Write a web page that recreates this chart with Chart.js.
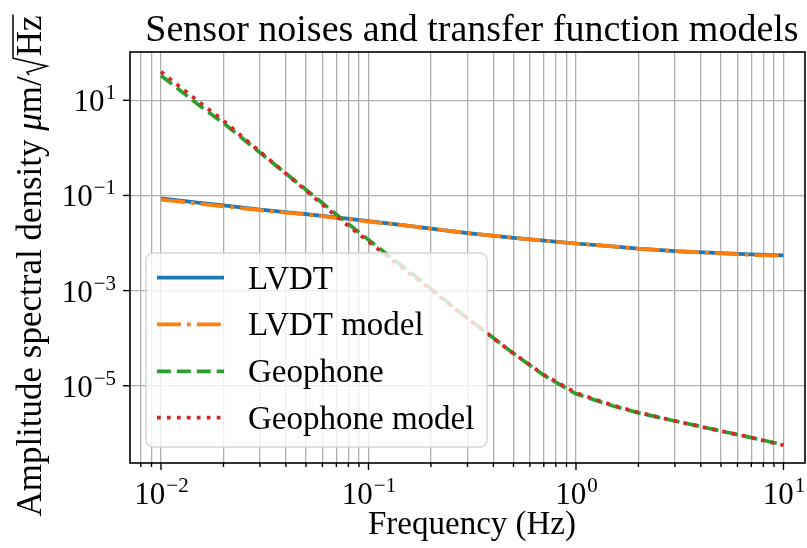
<!DOCTYPE html>
<html>
<head>
<meta charset="utf-8">
<script src="https://cdn.jsdelivr.net/npm/chart.js@4.4.1/dist/chart.umd.min.js"></script>
<style>
  html, body { margin: 0; padding: 0; background: #fff; }
</style>
</head>
<body>
<canvas id="psd" width="807" height="548"></canvas>
<script>
// frequency grid (Hz) and amplitude spectral densities (um/sqrt(Hz))
const freq = [0.01, 0.015, 0.02, 0.03, 0.05, 0.07, 0.1, 0.15, 0.2, 0.3, 0.5, 0.7, 1, 1.5, 2, 3, 5, 7, 10];
const lvdt = [0.0871, 0.0708, 0.0617, 0.0501, 0.0407, 0.0347, 0.0288, 0.0234, 0.0200, 0.0162, 0.0129, 0.0112,
  0.00977, 0.00851, 0.00759, 0.00676, 0.00617, 0.00575, 0.00550];
const lvdtModel = [0.0813, 0.0676, 0.0589, 0.0490, 0.0398, 0.0339, 0.0282, 0.0234, 0.0200, 0.0162, 0.0129, 0.0112,
  0.00977, 0.00851, 0.00759, 0.00676, 0.00603, 0.00562, 0.00537];
const geophone = [33.1, 8.32, 3.31, 0.794, 0.132, 0.0398, 0.0117, 0.00295, 0.00110, 2.63e-4, 4.79e-5, 1.66e-5,
  6.76e-6, 3.80e-6, 2.69e-6, 1.82e-6, 1.12e-6, 8.13e-7, 5.75e-7];
const geophoneModel = [39.8, 9.77, 3.72, 0.832, 0.126, 0.0363, 0.0107, 0.00269, 0.00105, 2.57e-4, 4.79e-5, 1.70e-5,
  7.08e-6, 3.89e-6, 2.75e-6, 1.82e-6, 1.12e-6, 8.13e-7, 5.62e-7];

const seriesNames = ['LVDT', 'LVDT model', 'Geophone', 'Geophone model'];
const xMajorTicks = [0.01, 0.1, 1, 10];
const yMajorTicks = [1e1, 1e-1, 1e-3, 1e-5];

const SERIF = '"Liberation Serif", "DejaVu Serif", serif';
const LW = 3.75;

function pairs(ys) {
  return freq.map((f, i) => ({ x: f, y: ys[i] }));
}

// every 1..9 x 10^n inside the axis range, for the minor grid on x
function logTicks(min, max) {
  const out = [];
  for (let e = Math.floor(Math.log10(min)); e <= Math.ceil(Math.log10(max)); e++) {
    for (let m = 1; m <= 9; m++) {
      const v = m * Math.pow(10, e);
      if (v >= min && v <= max) out.push({ value: v });
    }
  }
  return out;
}

const styles = [
  { color: '#1f77b4', dash: [] },
  { color: '#ff7f0e', dash: [24, 6, 3.75, 6] },
  { color: '#2ca02c', dash: [13.9, 6] },
  { color: '#d62728', dash: [3.75, 6.2] }
];
const seriesData = [lvdt, lvdtModel, geophone, geophoneModel];

// "10" with a raised exponent, as the axis tick labels read
function drawPower(ctx, exp, x, y, align) {
  const base = '10';
  const sup = exp < 0 ? '\u2212' + Math.abs(exp) : String(exp);
  ctx.font = '31px ' + SERIF;
  const wb = ctx.measureText(base).width;
  ctx.font = '21px ' + SERIF;
  const ws = ctx.measureText(sup).width;
  let left = x;
  if (align === 'center') left = x - (wb + ws) / 2;
  if (align === 'right') left = x - (wb + ws);
  ctx.textAlign = 'left';
  ctx.textBaseline = 'alphabetic';
  ctx.font = '31px ' + SERIF;
  ctx.fillText(base, left, y);
  ctx.font = '21px ' + SERIF;
  ctx.fillText(sup, left + wb + 1, y - 12);
}

const decorations = {
  id: 'decorations',
  afterDraw(chart) {
    const ctx = chart.ctx;
    const a = chart.chartArea;
    const xs = chart.scales.x, ys = chart.scales.y;
    ctx.save();
    ctx.fillStyle = '#000';
    ctx.strokeStyle = '#000';

    // frame
    ctx.lineWidth = 1.6;
    ctx.strokeRect(a.left, a.top, a.right - a.left, a.bottom - a.top);

    // x tick marks and labels
    ctx.lineWidth = 1.4;
    xs.ticks.forEach(t => {
      const px = xs.getPixelForValue(t.value);
      const major = xMajorTicks.some(v => Math.abs(v - t.value) < v * 1e-6);
      ctx.beginPath();
      ctx.moveTo(px, a.bottom);
      ctx.lineTo(px, a.bottom + (major ? 7 : 4));
      ctx.stroke();
    });
    xMajorTicks.forEach(v => {
      drawPower(ctx, Math.round(Math.log10(v)), xs.getPixelForValue(v), a.bottom + 41, 'center');
    });

    // y tick marks and labels
    yMajorTicks.forEach(v => {
      const py = ys.getPixelForValue(v);
      ctx.beginPath();
      ctx.moveTo(a.left, py);
      ctx.lineTo(a.left - 7, py);
      ctx.stroke();
      drawPower(ctx, Math.round(Math.log10(v)), a.left - 15, py + 11, 'right');
    });

    // title and x label
    ctx.textAlign = 'center';
    ctx.textBaseline = 'alphabetic';
    ctx.font = '38px ' + SERIF;
    ctx.fillText('Sensor noises and transfer function models', 472, 41);
    ctx.font = '33px ' + SERIF;
    ctx.fillText('Frequency (Hz)', 472, 534);

    // y label, rotated, with a drawn radical over Hz
    ctx.translate(41, 266);
    ctx.rotate(-Math.PI / 2);
    const F = '35px ' + SERIF;
    const parts = [
      { t: 'Amplitude spectral density ', f: F },
      { t: '\u03bc', f: 'italic ' + F },
      { t: 'm/', f: F }
    ];
    ctx.font = F;
    const hzW = ctx.measureText('Hz').width;
    const radW = 20;
    let total = radW + hzW;
    parts.forEach(p => { ctx.font = p.f; total += ctx.measureText(p.t).width; });
    let cx = -total / 2;
    ctx.textAlign = 'left';
    parts.forEach(p => {
      ctx.font = p.f;
      ctx.fillText(p.t, cx, 0);
      cx += ctx.measureText(p.t).width;
    });
    ctx.lineWidth = 1.5;
    ctx.lineJoin = 'miter';
    ctx.beginPath();
    ctx.moveTo(cx + 1, -12);
    ctx.lineTo(cx + 4, -14);
    ctx.lineTo(cx + 10, 6);
    ctx.lineTo(cx + 18, -28);
    ctx.lineTo(cx + radW + hzW + 1, -28);
    ctx.stroke();
    ctx.font = F;
    ctx.fillText('Hz', cx + radW, 0);
    ctx.restore();

    // legend box drawn over the curves
    ctx.save();
    ctx.beginPath();
    ctx.roundRect(146, 253, 341, 194, 7);
    ctx.fillStyle = 'rgba(255,255,255,0.8)';
    ctx.fill();
    ctx.lineWidth = 1.5;
    ctx.strokeStyle = 'rgba(204,204,204,0.8)';
    ctx.stroke();
    const rows = [277.7, 324.3, 371.3, 417.7];
    seriesNames.forEach((name, i) => {
      ctx.beginPath();
      ctx.setLineDash(styles[i].dash);
      ctx.lineCap = 'butt';
      ctx.lineWidth = LW;
      ctx.strokeStyle = styles[i].color;
      ctx.moveTo(157, rows[i]);
      ctx.lineTo(224, rows[i]);
      ctx.stroke();
      ctx.setLineDash([]);
      ctx.fillStyle = '#000';
      ctx.font = '33px ' + SERIF;
      ctx.textAlign = 'left';
      ctx.textBaseline = 'alphabetic';
      ctx.fillText(name, 248, rows[i] + 11);
    });
    ctx.restore();
  }
};

new Chart(document.getElementById('psd').getContext('2d'), {
  type: 'line',
  data: {
    datasets: seriesData.map((ys, i) => ({
      label: seriesNames[i],
      data: pairs(ys),
      order: seriesData.length - i, // later series sit on top
      borderColor: styles[i].color,
      borderDash: styles[i].dash,
      borderWidth: LW,
      borderCapStyle: 'butt',
      pointRadius: 0,
      fill: false,
      tension: 0
    }))
  },
  options: {
    responsive: false,
    animation: false,
    devicePixelRatio: 1,
    layout: { padding: { left: 130, right: 2, top: 52, bottom: 85 } },
    plugins: { legend: { display: false }, tooltip: { enabled: false } },
    scales: {
      x: {
        type: 'logarithmic',
        min: 0.00709,
        max: 12.7,
        afterBuildTicks: s => { s.ticks = logTicks(s.min, s.max); },
        ticks: { display: false },
        border: { display: false },
        grid: { color: '#b0b0b0', lineWidth: 1.3, drawTicks: false }
      },
      y: {
        type: 'logarithmic',
        min: 2.38e-7,
        max: 103.5,
        afterBuildTicks: s => { s.ticks = yMajorTicks.map(v => ({ value: v })); },
        ticks: { display: false },
        border: { display: false },
        grid: { color: '#b0b0b0', lineWidth: 1.3, drawTicks: false }
      }
    }
  },
  plugins: [decorations]
});
</script>
</body>
</html>
